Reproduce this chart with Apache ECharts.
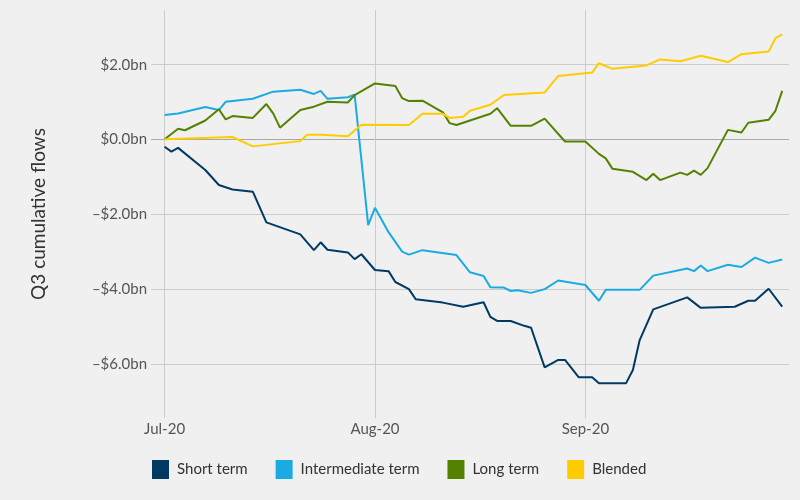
<!DOCTYPE html>
<html>
<head>
<meta charset="utf-8">
<script src="https://cdn.jsdelivr.net/npm/echarts@6/dist/echarts.min.js"></script>
<style>
html,body{margin:0;padding:0;background:#f0f0f0;}
#chart{width:800px;height:500px;}
</style>
</head>
<body>
<div id="chart"></div>
<script>
// ---- data ----
const seriesNames = ['Short term', 'Intermediate term', 'Long term', 'Blended'];

const shortTerm = [
  ['2020-07-01',-0.19],['2020-07-02',-0.32],['2020-07-03',-0.22],['2020-07-07',-0.81],
  ['2020-07-09',-1.21],['2020-07-11',-1.33],['2020-07-14',-1.39],['2020-07-16',-2.21],
  ['2020-07-21',-2.53],['2020-07-23',-2.95],['2020-07-24',-2.74],['2020-07-25',-2.94],
  ['2020-07-28',-3.01],['2020-07-29',-3.19],['2020-07-30',-3.06],['2020-08-01',-3.48],
  ['2020-08-03',-3.51],['2020-08-04',-3.80],['2020-08-06',-3.99],['2020-08-07',-4.26],
  ['2020-08-11',-4.35],['2020-08-14',-4.46],['2020-08-17',-4.34],['2020-08-18',-4.73],
  ['2020-08-19',-4.84],['2020-08-21',-4.84],['2020-08-23',-4.97],['2020-08-24',-5.02],
  ['2020-08-26',-6.08],['2020-08-28',-5.88],['2020-08-29',-5.88],['2020-08-31',-6.34],
  ['2020-09-02',-6.34],['2020-09-03',-6.50],['2020-09-07',-6.50],['2020-09-08',-6.15],
  ['2020-09-09',-5.35],['2020-09-11',-4.53],['2020-09-16',-4.21],['2020-09-18',-4.49],
  ['2020-09-23',-4.46],['2020-09-25',-4.30],['2020-09-26',-4.30],['2020-09-28',-3.98],
  ['2020-09-30',-4.46]
];

const intermediateTerm = [
  ['2020-07-01',0.66],['2020-07-03',0.70],['2020-07-07',0.87],['2020-07-09',0.79],
  ['2020-07-10',1.01],['2020-07-14',1.09],['2020-07-17',1.28],['2020-07-21',1.33],
  ['2020-07-23',1.22],['2020-07-24',1.30],['2020-07-25',1.09],['2020-07-28',1.13],
  ['2020-07-29',1.20],['2020-07-31',-2.28],['2020-08-01',-1.82],['2020-08-03',-2.47],
  ['2020-08-05',-2.99],['2020-08-06',-3.07],['2020-08-08',-2.95],['2020-08-13',-3.08],
  ['2020-08-15',-3.54],['2020-08-17',-3.64],['2020-08-18',-3.94],['2020-08-20',-3.95],
  ['2020-08-21',-4.04],['2020-08-22',-4.02],['2020-08-24',-4.09],['2020-08-26',-3.99],
  ['2020-08-28',-3.76],['2020-09-01',-3.88],['2020-09-03',-4.30],['2020-09-04',-4.01],
  ['2020-09-09',-4.01],['2020-09-11',-3.63],['2020-09-16',-3.44],['2020-09-17',-3.51],
  ['2020-09-18',-3.36],['2020-09-19',-3.51],['2020-09-22',-3.34],['2020-09-24',-3.40],
  ['2020-09-26',-3.15],['2020-09-28',-3.29],['2020-09-30',-3.20]
];

const longTerm = [
  ['2020-07-01',0.01],['2020-07-03',0.29],['2020-07-04',0.25],['2020-07-07',0.51],
  ['2020-07-09',0.81],['2020-07-10',0.54],['2020-07-11',0.63],['2020-07-14',0.58],
  ['2020-07-16',0.95],['2020-07-17',0.70],['2020-07-18',0.32],['2020-07-21',0.79],
  ['2020-07-23',0.88],['2020-07-25',1.01],['2020-07-28',0.99],['2020-07-29',1.19],
  ['2020-08-01',1.50],['2020-08-04',1.43],['2020-08-05',1.11],['2020-08-06',1.03],
  ['2020-08-08',1.04],['2020-08-11',0.73],['2020-08-12',0.44],['2020-08-13',0.39],
  ['2020-08-18',0.69],['2020-08-19',0.84],['2020-08-21',0.37],['2020-08-24',0.37],
  ['2020-08-26',0.56],['2020-08-29',-0.05],['2020-09-01',-0.05],['2020-09-03',-0.38],
  ['2020-09-04',-0.50],['2020-09-05',-0.78],['2020-09-08',-0.86],['2020-09-10',-1.08],
  ['2020-09-11',-0.91],['2020-09-12',-1.08],['2020-09-15',-0.88],['2020-09-16',-0.94],
  ['2020-09-17',-0.83],['2020-09-18',-0.94],['2020-09-19',-0.76],['2020-09-22',0.26],
  ['2020-09-24',0.19],['2020-09-25',0.45],['2020-09-28',0.53],['2020-09-29',0.77],
  ['2020-09-30',1.30]
];

const blended = [
  ['2020-07-01',0.01],['2020-07-11',0.07],['2020-07-14',-0.18],['2020-07-21',-0.04],
  ['2020-07-22',0.13],['2020-07-24',0.13],['2020-07-28',0.09],['2020-07-30',0.40],
  ['2020-08-06',0.39],['2020-08-08',0.69],['2020-08-11',0.69],['2020-08-12',0.58],
  ['2020-08-14',0.61],['2020-08-15',0.77],['2020-08-18',0.93],['2020-08-20',1.19],
  ['2020-08-26',1.26],['2020-08-28',1.70],['2020-09-02',1.79],['2020-09-03',2.04],
  ['2020-09-05',1.89],['2020-09-10',1.98],['2020-09-12',2.14],['2020-09-15',2.09],
  ['2020-09-18',2.24],['2020-09-22',2.07],['2020-09-24',2.28],['2020-09-28',2.35],
  ['2020-09-29',2.71],['2020-09-30',2.81]
];

const xTickDates = ['2020-07-01', '2020-08-01', '2020-09-01'];
const xTickLabels = ['Jul-20', 'Aug-20', 'Sep-20'];
const yTickValues = [-6, -4, -2, 0, 2];
const yTickLabels = ['\u2013$6.0bn', '\u2013$4.0bn', '\u2013$2.0bn', '$0.0bn', '$2.0bn'];

// ---- helpers ----
function ts(s) {
  const p = s.split('-').map(Number);
  return Date.UTC(p[0], p[1] - 1, p[2]);
}
function toPoints(arr) { return arr.map(d => [ts(d[0]), d[1]]); }

const colors = ['#003a63', '#1aabe2', '#548200', '#ffcc00'];
const FONT = 'Lato';

const xTickTs = xTickDates.map(ts);

const chart = echarts.init(document.getElementById('chart'), null, {renderer: 'canvas'});
chart.setOption({
  animation: false,
  backgroundColor: '#f0f0f0',
  color: colors,
  textStyle: {fontFamily: FONT},
  grid: {left: 151, right: 11, top: 10, bottom: 82, containLabel: false},
  legend: {
    left: 147, top: 455,
    itemWidth: 17, itemHeight: 19, itemGap: 28,
    icon: 'rect',
    textStyle: {fontFamily: FONT, fontSize: 15, color: '#333', padding: [0, 0, 0, 3]},
    data: seriesNames
  },
  xAxis: {
    type: 'value',
    min: ts('2020-06-29'),
    max: ts('2020-10-01'),
    axisLine: {show: false},
    axisTick: {show: false, customValues: xTickTs},
    axisLabel: {
      customValues: xTickTs,
      margin: 4,
      fontFamily: FONT, fontSize: 15, color: '#555',
      formatter: function (v) {
        const i = xTickTs.indexOf(v);
        return i >= 0 ? xTickLabels[i] : '';
      }
    },
    splitLine: {show: true, lineStyle: {color: '#cbcbcb', width: 1}}
  },
  yAxis: {
    type: 'value',
    min: -7.43,
    max: 3.46,
    name: 'Q3 cumulative flows',
    nameLocation: 'middle',
    nameGap: 103,
    nameTextStyle: {fontFamily: FONT, fontSize: 19, color: '#333'},
    axisLine: {show: false},
    axisTick: {show: false, customValues: yTickValues},
    axisLabel: {
      customValues: yTickValues,
      margin: 4,
      fontFamily: FONT, fontSize: 15, color: '#555',
      formatter: function (v) {
        const i = yTickValues.indexOf(v);
        return i >= 0 ? yTickLabels[i] : '';
      }
    },
    splitLine: {show: true, lineStyle: {color: ['#cbcbcb', '#cbcbcb', '#cbcbcb', '#a8a8a8', '#cbcbcb'], width: 1}}
  },
  series: [
    {name: seriesNames[0], type: 'line', data: toPoints(shortTerm)},
    {name: seriesNames[1], type: 'line', data: toPoints(intermediateTerm)},
    {name: seriesNames[2], type: 'line', data: toPoints(longTerm)},
    {name: seriesNames[3], type: 'line', data: toPoints(blended)}
  ].map(s => Object.assign(s, {showSymbol: false, symbol: 'none', lineStyle: {width: 2}}))
});
</script>
</body>
</html>
